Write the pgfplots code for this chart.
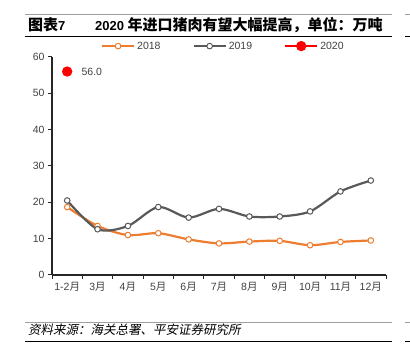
\documentclass[border=0pt]{standalone}
\usepackage{pgfplots}
\pgfplotsset{compat=1.18}
\usepackage{fontspec}
\setmainfont{Liberation Sans}
\newfontfamily\cjk{Noto Sans CJK SC}
\newfontfamily\cjkit[FakeSlant=0.2]{Noto Sans CJK SC}
\definecolor{c18}{RGB}{237,125,49}
\definecolor{c19}{RGB}{89,89,89}
\definecolor{txt}{RGB}{64,64,64}
\definecolor{axc}{RGB}{38,38,38}
\begin{document}
\begin{tikzpicture}
\path[use as bounding box] (0pt,0pt) rectangle (410pt,353pt);
% header rules
\draw[gray!75, line width=0.8pt] (25pt,339pt) -- (392pt,339pt);
\draw[gray!75, line width=0.8pt] (405pt,339pt) -- (410pt,339pt);
\draw[black, line width=0.8pt] (25pt,316.5pt) -- (392pt,316.5pt);
\draw[black, line width=0.8pt] (405pt,316.5pt) -- (410pt,316.5pt);
\node[anchor=base west, inner sep=0pt, font=\fontsize{13}{15}\selectfont\bfseries] at (28pt,322pt) {{\cjk\fontsize{15}{16}\selectfont 图表}7};
\node[anchor=base west, inner sep=0pt, font=\fontsize{13}{15}\selectfont\bfseries] at (95pt,322pt) {2020 {\cjk\fontsize{15}{16}\selectfont 年进口猪肉有望大幅提高，单位：万吨}};
% footer rules
\draw[gray!75, line width=0.8pt] (25pt,31pt) -- (392pt,31pt);
\draw[gray!75, line width=0.8pt] (405pt,31pt) -- (410pt,31pt);
\draw[black, line width=0.8pt] (25pt,12pt) -- (392pt,12pt);
\draw[black, line width=0.8pt] (405pt,12pt) -- (410pt,12pt);
\node[anchor=base west, inner sep=0pt, font=\fontsize{12.5}{14}\selectfont] at (28pt,18pt) {\cjkit 资料来源：海关总署、平安证券研究所};
\begin{axis}[
  at={(52pt,78pt)}, anchor=south west,
  scale only axis, width=334pt, height=218pt,
  xmin=-0.5, xmax=10.5, ymin=0, ymax=60,
  axis x line=bottom, axis y line=left,
  axis line style={-, draw=axc, line width=1.3pt},
  ytick={0,10,...,60},
  xtick={0,...,10},
  xticklabels={1-2{\cjk 月},3{\cjk 月},4{\cjk 月},5{\cjk 月},6{\cjk 月},7{\cjk 月},8{\cjk 月},9{\cjk 月},10{\cjk 月},11{\cjk 月},12{\cjk 月}},
  minor xtick={-0.5,0.5,...,10.5},
  tick align=outside,
  major tick length=4pt, minor tick length=4pt,
  major x tick style={draw=none},
  minor x tick style={draw=axc, line width=1pt},
  major y tick style={draw=axc, line width=1pt},
  ticklabel style={font=\fontsize{10.5}{12}\selectfont, text=txt},
  /pgf/number format/assume math mode=true,
  clip=false,
  legend style={at={(0.513,1.05)}, anchor=center, draw=none, fill=none,
    font=\fontsize{10.5}{12}\selectfont, text=txt,
    /tikz/every even column/.append style={column sep=30pt}},
  legend columns=3,
  legend image code/.code={\draw[mark repeat=2,mark phase=2] plot coordinates {(0pt,0pt)(16pt,0pt)(32pt,0pt)};},
]
\addplot[c18, line width=2.2pt, smooth, tension=0.5, mark=*, mark size=2.8pt, mark options={fill=white, line width=1pt, solid}]
 coordinates {(0,18.7)(1,13.5)(2,11.0)(3,11.5)(4,9.8)(5,8.7)(6,9.2)(7,9.4)(8,8.2)(9,9.1)(10,9.5)};
\addlegendentry{2018}
\addplot[c19, line width=2.2pt, smooth, tension=0.5, mark=*, mark size=2.8pt, mark options={fill=white, line width=1pt, solid}]
 coordinates {(0,20.5)(1,12.6)(2,13.5)(3,18.7)(4,15.8)(5,18.2)(6,16.1)(7,16.1)(8,17.5)(9,23.0)(10,26.0)};
\addlegendentry{2019}
\addplot[red, line width=2.2pt, mark=*, mark size=4pt, mark options={fill=red, draw=red, solid},
  point meta=explicit,
  nodes near coords={\pgfmathprintnumber[fixed,fixed zerofill,precision=1]{\pgfplotspointmeta}},
  nodes near coords style={anchor=west, xshift=10pt, font=\fontsize{10.5}{12}\selectfont, text=txt}]
 coordinates {(0,56.0) [56.0]};
\addlegendentry{2020}
\end{axis}
\end{tikzpicture}
\end{document}
